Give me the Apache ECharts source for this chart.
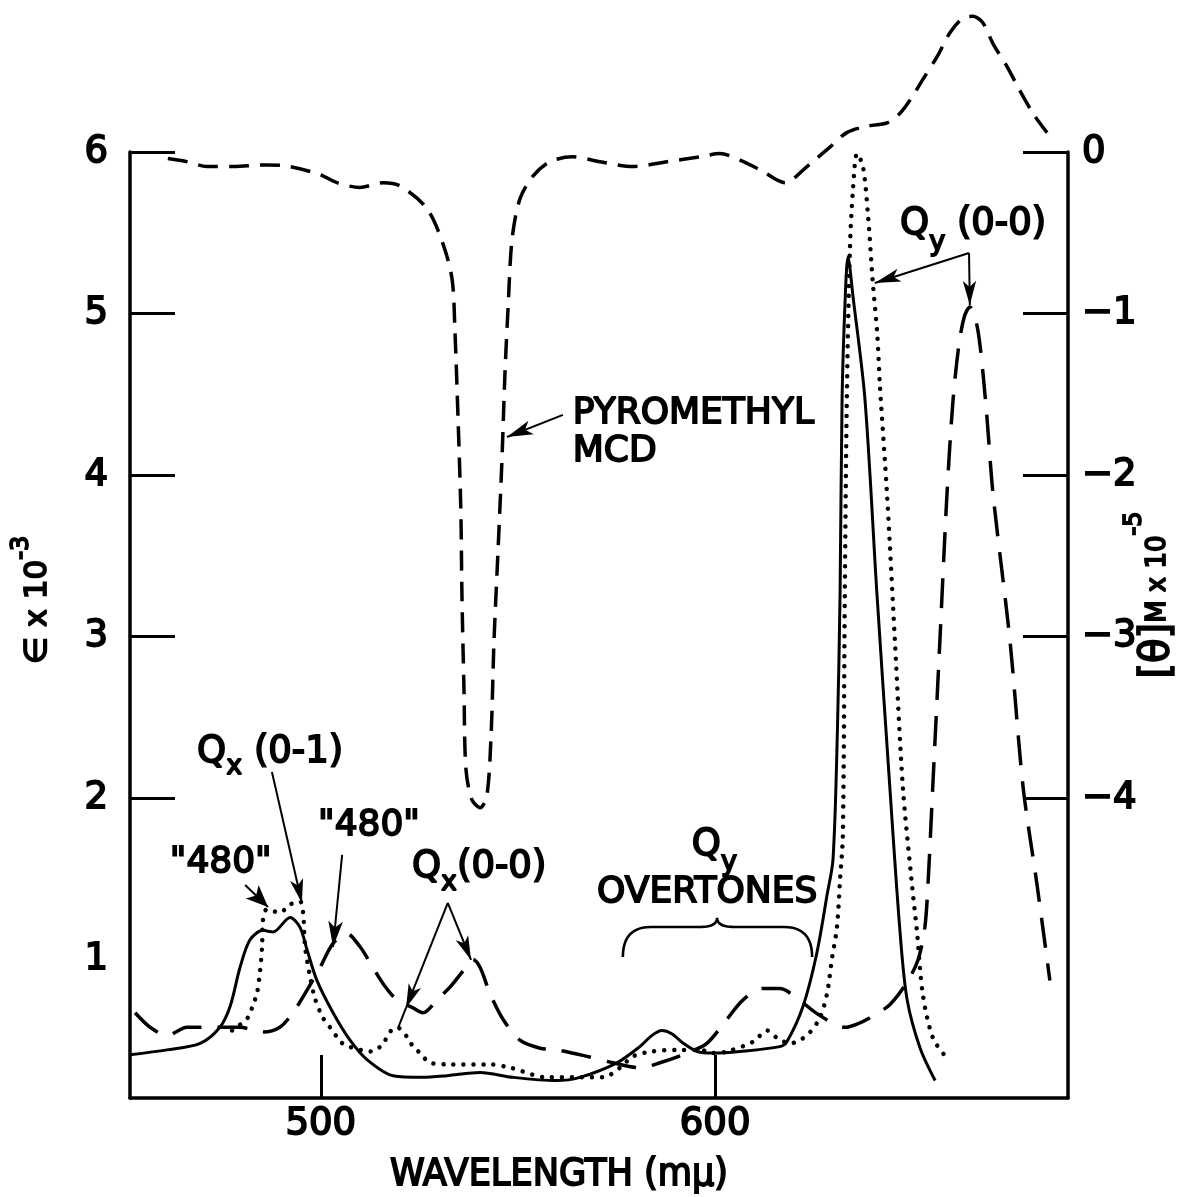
<!DOCTYPE html>
<html>
<head>
<meta charset="utf-8">
<script src="https://cdn.jsdelivr.net/npm/echarts@6/dist/echarts.min.js"></script>
<style>
  html, body { margin: 0; padding: 0; background: #ffffff; }
  #chart { width: 1185px; height: 1197px; }
</style>
</head>
<body>
<div id="chart"></div>
<script>
// ---- Absorption (ε × 10^-3, left axis) and MCD ([θ]M × 10^-5, right axis) spectra ----

// solid absorption curve
const solidWl  = [451.6, 461.0, 469.4, 474.4, 477.0, 479.5, 482.0, 485.3, 487.9, 492.2, 494.7, 496.5, 499.0, 503.1, 507.4, 511.7, 518.3, 525.7, 532.0, 540.4, 548.7, 559.6, 565.7, 575.1, 580.9, 584.0, 586.5, 589.0, 592.0, 595.5, 599.5, 606.3, 616.4, 618.2, 622.3, 625.8, 628.4, 629.9, 631.0, 631.7, 632.2, 633.0, 633.7, 635.0, 638.0, 641.0, 644.3, 646.9, 648.7, 652.0, 655.8];
const solidEps = [0.41, 0.44, 0.48, 0.58, 0.71, 0.95, 1.12, 1.18, 1.17, 1.26, 1.20, 1.06, 0.87, 0.67, 0.50, 0.38, 0.28, 0.27, 0.28, 0.30, 0.27, 0.25, 0.27, 0.36, 0.46, 0.53, 0.56, 0.54, 0.48, 0.43, 0.42, 0.43, 0.46, 0.49, 0.71, 1.04, 1.40, 1.62, 2.40, 3.28, 4.47, 5.10, 5.35, 5.10, 4.47, 3.28, 2.07, 1.17, 0.75, 0.45, 0.25];

// dotted absorption curve
const dottedWl  = [477.5, 481.5, 482.8, 483.8, 484.6, 485.1, 485.3, 486.3, 489.6, 492.2, 494.7, 495.5, 496.0, 497.3, 498.5, 500.5, 502.3, 504.1, 506.1, 513.0, 515.8, 517.5, 519.3, 521.9, 523.4, 525.2, 527.7, 532.8, 542.9, 548.0, 557.4, 565.7, 571.6, 575.9, 579.2, 584.0, 590.0, 596.2, 599.5, 603.0, 609.6, 613.2, 615.9, 619.0, 621.5, 624.1, 626.6, 628.4, 629.6, 630.9, 631.7, 632.4, 632.9, 633.4, 634.2, 635.0, 636.0, 637.5, 638.8, 640.0, 641.1, 641.8, 643.6, 645.6, 647.6, 649.9, 651.2, 652.7, 655.3, 658.8];
const dottedEps = [0.56, 0.64, 0.72, 0.79, 0.93, 1.08, 1.24, 1.31, 1.29, 1.34, 1.36, 1.29, 1.08, 0.89, 0.76, 0.64, 0.58, 0.52, 0.47, 0.43, 0.48, 0.55, 0.58, 0.52, 0.46, 0.42, 0.36, 0.35, 0.35, 0.33, 0.27, 0.27, 0.27, 0.33, 0.40, 0.43, 0.44, 0.44, 0.42, 0.43, 0.49, 0.56, 0.51, 0.48, 0.50, 0.55, 0.64, 0.79, 1.00, 1.20, 1.50, 1.77, 3.28, 4.47, 5.41, 5.78, 5.99, 5.91, 5.60, 5.19, 4.88, 4.55, 3.88, 2.97, 2.07, 1.47, 1.17, 0.78, 0.51, 0.39];

// dashed absorption curve
const dashedWl  = [452.9, 456.7, 461.0, 466.1, 473.7, 479.5, 485.3, 489.6, 492.9, 496.5, 499.8, 503.1, 506.6, 509.9, 512.5, 515.8, 519.3, 523.4, 525.9, 529.5, 532.8, 536.1, 538.6, 540.4, 542.9, 546.2, 550.5, 555.6, 559.9, 567.5, 574.1, 580.9, 586.0, 592.9, 597.9, 603.0, 607.1, 612.1, 616.4, 620.8, 626.1, 633.0, 636.0, 639.3, 644.3, 648.7, 651.5, 653.2, 654.0, 655.2, 657.0, 658.8, 660.3, 661.8, 663.2, 664.6, 666.0, 667.2, 668.8, 670.5, 674.8, 678.1, 681.6, 684.9];
const dashedEps = [0.67, 0.58, 0.53, 0.58, 0.58, 0.58, 0.55, 0.58, 0.67, 0.81, 0.95, 1.10, 1.16, 1.08, 0.98, 0.85, 0.75, 0.70, 0.67, 0.75, 0.83, 0.93, 1.00, 0.95, 0.79, 0.63, 0.50, 0.45, 0.44, 0.40, 0.36, 0.33, 0.36, 0.42, 0.48, 0.63, 0.75, 0.82, 0.82, 0.76, 0.66, 0.58, 0.60, 0.64, 0.72, 0.86, 1.00, 1.20, 1.47, 2.07, 2.97, 3.88, 4.45, 4.80, 4.98, 5.04, 4.97, 4.80, 4.40, 3.88, 2.97, 2.07, 1.47, 0.87];

// pyromethyl MCD curve
const mcdWl    = [461.2, 466.1, 471.1, 477.7, 486.3, 492.2, 499.8, 504.1, 509.9, 515.8, 520.1, 526.9, 531.0, 533.3, 534.0, 534.8, 535.5, 535.8, 536.3, 536.8, 538.3, 540.4, 542.1, 543.2, 543.9, 544.9, 545.9, 546.7, 547.5, 548.5, 550.5, 553.8, 558.1, 563.9, 570.8, 579.2, 587.8, 596.2, 601.2, 606.3, 611.4, 617.7, 623.3, 629.1, 633.4, 638.5, 643.6, 646.9, 649.4, 652.7, 656.3, 659.6, 662.9, 665.4, 667.9, 670.5, 674.0, 677.3, 680.6, 684.2];
const mcdTheta = [-0.04, -0.06, -0.09, -0.09, -0.08, -0.09, -0.14, -0.19, -0.22, -0.19, -0.21, -0.35, -0.57, -0.79, -1.10, -1.65, -2.21, -2.76, -3.32, -3.82, -4.01, -4.06, -3.99, -3.60, -3.04, -2.49, -1.93, -1.37, -0.96, -0.54, -0.29, -0.15, -0.06, -0.03, -0.06, -0.09, -0.06, -0.03, -0.01, -0.05, -0.11, -0.19, -0.09, 0.03, 0.12, 0.16, 0.18, 0.24, 0.32, 0.45, 0.59, 0.74, 0.83, 0.84, 0.80, 0.67, 0.53, 0.38, 0.24, 0.12];

// axis ticks and labels
const wlTicks     = [500, 600];
const epsTicks    = [2, 3, 4, 5, 6];
const epsLabels   = [1, 2, 3, 4, 5, 6];
const thetaTicks  = [0, -1, -2, -3, -4];

const zip = (xs, ys) => xs.map((x, i) => [x, ys[i]]);

const INK = '#000000';
const FONT = 'DejaVu Sans';
const STROKE = 1.8;
const labelFont = {
  color: INK, fontFamily: FONT, fontSize: 37,
  textBorderColor: INK, textBorderWidth: STROKE
};

const EPS_MIN = 0.142, EPS_MAX = 6;
const THETA_SHIFT = 6;   // right scale sits 6 units below the left one

const baseLine = {
  type: 'line', showSymbol: false, symbol: 'none', silent: true,
  smooth: 0.3, animation: false
};

const option = {
  animation: false,
  backgroundColor: '#ffffff',
  grid: { left: 130, right: 117, top: 152, bottom: 99, show: false },
  xAxis: {
    type: 'value', min: 451.6, max: 689.5,
    axisLine: { onZero: false, lineStyle: { color: INK, width: 3.5 } },
    axisTick: { inside: true, length: 43, customValues: wlTicks, lineStyle: { color: INK, width: 3 } },
    axisLabel: Object.assign({ customValues: wlTicks, margin: 8 }, labelFont),
    splitLine: { show: false }
  },
  yAxis: [
    {
      type: 'value', position: 'left', min: EPS_MIN, max: EPS_MAX,
      axisLine: { show: true, onZero: false, lineStyle: { color: INK, width: 3.5 } },
      axisTick: { show: true, inside: true, length: 45, customValues: epsTicks, lineStyle: { color: INK, width: 3 } },
      axisLabel: Object.assign({ customValues: epsLabels, margin: 22 }, labelFont),
      splitLine: { show: false }
    },
    {
      type: 'value', position: 'right', min: EPS_MIN - THETA_SHIFT, max: EPS_MAX - THETA_SHIFT,
      axisLine: { show: true, onZero: false, lineStyle: { color: INK, width: 3.5 } },
      axisTick: { show: true, inside: true, length: 45, customValues: thetaTicks, lineStyle: { color: INK, width: 3 } },
      axisLabel: Object.assign({
        customValues: thetaTicks, margin: 14,
        formatter: v => (v === 0 ? '0' : '\u2212' + Math.abs(v))
      }, labelFont),
      splitLine: { show: false }
    }
  ],
  series: [
    Object.assign({}, baseLine, {
      name: 'solid', yAxisIndex: 0, data: zip(solidWl, solidEps),
      lineStyle: { color: INK, width: 3, type: 'solid' }
    }),
    Object.assign({}, baseLine, {
      name: 'dotted', yAxisIndex: 0, data: zip(dottedWl, dottedEps),
      lineStyle: { color: INK, width: 4.5, type: [0.01, 10], cap: 'round' }
    }),
    Object.assign({}, baseLine, {
      name: 'dashed', yAxisIndex: 0, data: zip(dashedWl, dashedEps),
      lineStyle: { color: INK, width: 3.5, type: [30, 16] }
    }),
    Object.assign({}, baseLine, {
      name: 'Pyromethyl MCD', yAxisIndex: 1, clip: false, data: zip(mcdWl, mcdTheta),
      lineStyle: { color: INK, width: 3.5, type: [20, 11] }
    })
  ]
};

const chart = echarts.init(document.getElementById('chart'), null, { renderer: 'canvas' });
chart.setOption(option);

// ---- annotations (anchored in wavelength / ε coordinates) ----
const toPx = (p) => chart.convertToPixel({ xAxisIndex: 0, yAxisIndex: 0 }, p);

const arrow = (from, to, head) => [
  { coord: from, symbol: 'none' },
  { coord: to, symbol: head ? 'arrow' : 'none', symbolSize: head || 0 }
];
const pointers = [
  arrow([561.4, 4.372], [547.2, 4.235], [11, 26]),   // PYROMETHYL MCD
  arrow([664.4, 5.375], [640.5, 5.189], [10, 26]),   // Qy(0-0) -> dotted
  arrow([664.4, 5.375], [664.6, 5.053], [10, 24]),   // Qy(0-0) -> dashed
  arrow([532.2, 1.350], [521.6, 0.700], [10, 24]),   // Qx(0-0) -> dotted
  arrow([521.6, 0.700], [519.6, 0.576], null),
  arrow([532.2, 1.350], [538.1, 0.997], [10, 24]),   // Qx(0-0) -> dashed
  arrow([505.4, 1.647], [503.1, 1.077], [11, 26]),   // "480" -> dashed
  arrow([480.8, 1.461], [486.6, 1.325], [14, 22]),   // "480" -> dotted
  arrow([487.6, 2.161], [495.2, 1.350], [10, 24])    // Qx(0-1)
];

chart.setOption({
  series: [{
    name: 'solid',
    markLine: {
      silent: true, animation: false,
      label: { show: false },
      emphasis: { disabled: true },
      lineStyle: { color: INK, width: 2, type: 'solid' },
      data: pointers
    }
  }]
});

const inkText = (size) => ({ fontSize: size, fontFamily: FONT, fill: INK, stroke: INK, lineWidth: STROKE });
const richQ = (lineH) => ({
  q: Object.assign(inkText(37), { lineHeight: lineH, verticalAlign: 'middle' }),
  s: Object.assign(inkText(27), { lineHeight: 27, verticalAlign: 'bottom' })
});

function label(at, text, opts) {
  const p = toPx(at);
  const o = opts || {};
  return {
    type: 'text', x: p[0], y: p[1], silent: true, z: 10,
    style: Object.assign({
      text: text,
      align: o.align || 'left', textAlign: o.align || 'left',
      verticalAlign: 'middle', textVerticalAlign: 'middle',
      rich: o.rich
    }, inkText(o.size || 36))
  };
}

const graphics = [
  label([563.9, 4.378], 'PYROMETHYL', { size: 36 }),
  label([563.9, 4.142], 'MCD', { size: 36 }),
  label([646.9, 5.554], '{q|Q}{s|y}{q| (0-0)}', { rich: richQ(64) }),
  label([594.1, 1.709], '{q|Q}{s|y}', { rich: richQ(64) }),
  label([598.0, 1.412], 'OVERTONES', { size: 36, align: 'center' }),
  label([523.1, 1.567], '{q|Q}{s|x}{q|(0-0)}', { rich: richQ(58) }),
  label([499.3, 1.827], '"480"', { size: 36 }),
  label([461.7, 1.598], '"480"', { size: 36 }),
  label([468.6, 2.285], '{q|Q}{s|x}{q| (0-1)}', { rich: richQ(58) })
];

// curly brace over the Qy overtone bands, traced as a polyline
(function () {
  const l = toPx([576.6, 1.015]), r = toPx([624.6, 1.015]);
  const top = toPx([600.5, 1.201])[1], tip = toPx([600.5, 1.257]);
  const xm = tip[0];
  const pts = [[l[0], l[1]]];
  const quad = (p0, p1, p2) => {
    for (let i = 1; i <= 12; i++) {
      const t = i / 12, a = (1 - t) * (1 - t), b = 2 * (1 - t) * t, c = t * t;
      pts.push([a * p0[0] + b * p1[0] + c * p2[0], a * p0[1] + b * p1[1] + c * p2[1]]);
    }
  };
  quad([l[0], l[1]], [l[0], top], [l[0] + 28, top]);
  pts.push([xm - 18, top]);
  quad([xm - 18, top], [xm, top], [xm, tip[1]]);
  quad([xm, tip[1]], [xm, top], [xm + 18, top]);
  pts.push([r[0] - 28, top]);
  quad([r[0] - 28, top], [r[0], top], [r[0], r[1]]);
  graphics.push({
    type: 'polyline', silent: true, z: 10,
    shape: { points: pts },
    style: { stroke: INK, lineWidth: 2.6, fill: null }
  });
})();

// axis titles
graphics.push({
  type: 'text', x: 38, y: 600, rotation: Math.PI / 2, silent: true,
  style: {
    text: '{m|\u2208 x 10}{p|-3}',
    align: 'center', textAlign: 'center', verticalAlign: 'middle', textVerticalAlign: 'middle',
    rich: {
      m: Object.assign(inkText(31), { lineHeight: 56, verticalAlign: 'middle' }),
      p: Object.assign(inkText(24), { lineHeight: 24, verticalAlign: 'top' })
    }
  }
});
graphics.push({
  type: 'text', x: 1158, y: 595, rotation: Math.PI / 2, silent: true,
  style: {
    text: '{b|[\u03B8]}{s|M x 10}{p|-5}',
    align: 'center', textAlign: 'center', verticalAlign: 'middle', textVerticalAlign: 'middle',
    rich: {
      b: Object.assign(inkText(40), { lineHeight: 70, verticalAlign: 'middle' }),
      s: Object.assign(inkText(26), { lineHeight: 26, verticalAlign: 'middle' }),
      p: Object.assign(inkText(24), { lineHeight: 24, verticalAlign: 'top' })
    }
  }
});
graphics.push({
  type: 'text', x: 559, y: 1175, scaleX: 0.95, silent: true,
  style: Object.assign({
    text: 'WAVELENGTH (m\u03BC)',
    align: 'center', textAlign: 'center', verticalAlign: 'middle', textVerticalAlign: 'middle'
  }, inkText(37))
});

chart.setOption({ graphic: graphics });
</script>
</body>
</html>
